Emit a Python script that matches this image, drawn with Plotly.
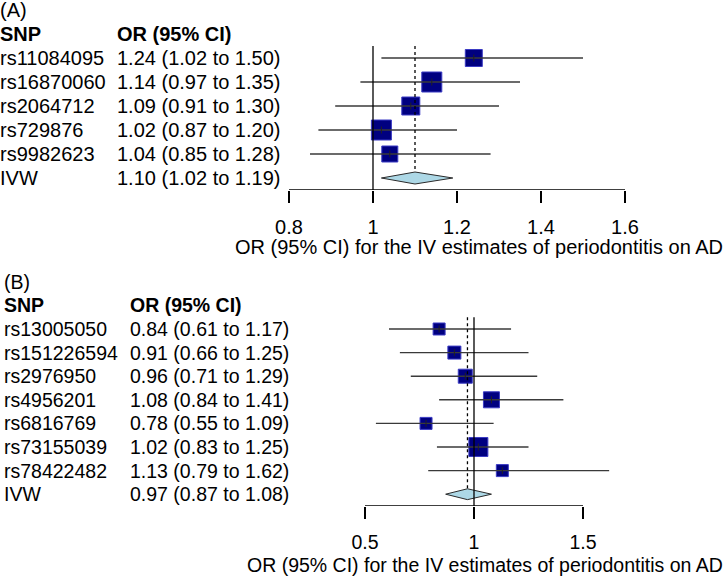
import plotly.graph_objects as go

# ---------------- Data ----------------
snps_A = ["rs11084095", "rs16870060", "rs2064712", "rs729876", "rs9982623"]
or_A = [1.24, 1.14, 1.09, 1.02, 1.04]
lo_A = [1.02, 0.97, 0.91, 0.87, 0.85]
hi_A = [1.50, 1.35, 1.30, 1.20, 1.28]
weight_A = [17, 20, 18, 20, 16]
ivw_A = [1.10, 1.02, 1.19]
ticks_A = [0.8, 1.0, 1.2, 1.4, 1.6]
ticktext_A = ["0.8", "1", "1.2", "1.4", "1.6"]

snps_B = ["rs13005050", "rs151226594", "rs2976950", "rs4956201", "rs6816769", "rs73155039", "rs78422482"]
or_B = [0.84, 0.91, 0.96, 1.08, 0.78, 1.02, 1.13]
lo_B = [0.61, 0.66, 0.71, 0.84, 0.55, 0.83, 0.79]
hi_B = [1.17, 1.25, 1.29, 1.41, 1.09, 1.25, 1.62]
weight_B = [12, 13, 14, 16, 12, 19, 12]
ivw_B = [0.97, 0.87, 1.08]
ticks_B = [0.5, 1.0, 1.5]
ticktext_B = ["0.5", "1", "1.5"]

xlab = "OR (95% CI) for the IV estimates of periodontitis on AD"

W, H = 726, 576
FONT = "Liberation Sans, Arial, sans-serif"

fig = go.Figure()

def fmt(o, l, h):
    return f"{o:.2f} ({l:.2f} to {h:.2f})"

def panel(snps, ors, los, his, weights, ivw, ticks, ticktext, label,
          xa, ya, px_one, px_per_unit, row0_px, row_h, fsize,
          col1_px, col2_px, diamond_h, title_y):
    n = len(snps)
    ivw_row = n
    # x range from pixel mapping across the full width
    xr = [1 - px_one / px_per_unit, 1 + (W - px_one) / px_per_unit]
    top_row = -2.4
    bot_row = n + 0.5
    dom_top = 1 - (row0_px + top_row * row_h) / H
    dom_bot = 1 - (row0_px + bot_row * row_h) / H
    xkey = "xaxis" if xa == "x" else "xaxis" + xa[1:]
    ykey = "yaxis" if ya == "y" else "yaxis" + ya[1:]
    fig.update_layout(**{
        xkey: dict(domain=[0, 1], range=xr, anchor=ya, showgrid=False, zeroline=False,
                   showline=False, ticks="outside", ticklen=12, tickwidth=1.3,
                   tickcolor="black", tickvals=ticks, ticktext=ticktext,
                   tickfont=dict(family=FONT, size=fsize, color="black"),
                   ticklabelstandoff=7),
        ykey: dict(domain=[max(dom_bot, 0), min(dom_top, 1)], range=[bot_row, top_row],
                   anchor=xa, visible=False, showgrid=False, zeroline=False),
    })
    # axis line
    fig.add_shape(type="line", xref=xa, yref=ya, x0=ticks[0], x1=ticks[-1],
                  y0=bot_row, y1=bot_row, line=dict(color="black", width=1.3))
    # null line at 1
    fig.add_shape(type="line", xref=xa, yref=ya, x0=1, x1=1, y0=-0.5, y1=bot_row,
                  line=dict(color="black", width=1.3))
    # dotted summary line
    fig.add_shape(type="line", xref=xa, yref=ya, x0=ivw[0], x1=ivw[0], y0=-0.5,
                  y1=ivw_row - diamond_h, line=dict(color="black", width=1.3, dash="dot"))
    rows = list(range(n))
    # boxes
    fig.add_trace(go.Scatter(x=ors, y=rows, mode="markers", xaxis=xa, yaxis=ya,
                             marker=dict(symbol="square", size=weights, color="#000080",
                                         opacity=1,
                                         line=dict(color="#3b3bc4", width=1)),
                             hoverinfo="skip", showlegend=False))
    # CI lines
    cx, cy = [], []
    for i in rows:
        cx += [los[i], his[i], None]
        cy += [i, i, None]
    fig.add_trace(go.Scatter(x=cx, y=cy, mode="lines", xaxis=xa, yaxis=ya,
                             line=dict(color="#3a3a3a", width=1.4),
                             hoverinfo="skip", showlegend=False))
    fig.add_trace(go.Scatter(x=ors, y=rows, mode="markers", xaxis=xa, yaxis=ya,
                             marker=dict(symbol="line-ns", size=5, opacity=1,
                                         line=dict(color="#222222", width=1)),
                             hoverinfo="skip", showlegend=False))
    # diamond
    est, lo, hi = ivw
    fig.add_trace(go.Scatter(x=[lo, est, hi, est, lo],
                             y=[ivw_row, ivw_row - diamond_h, ivw_row, ivw_row + diamond_h, ivw_row],
                             mode="lines", fill="toself", fillcolor="#add8e6",
                             line=dict(color="#2a2a2a", width=1), xaxis=xa, yaxis=ya,
                             hoverinfo="skip", showlegend=False))
    # table text
    tf = dict(family=FONT, size=fsize, color="black")
    def ann(text, xpx, row, bold=False):
        fig.add_annotation(x=xpx / W, xref="paper", y=row, yref=ya, text=f"<b>{text}</b>" if bold else text,
                           showarrow=False, xanchor="left", yanchor="middle", font=tf, borderpad=0)
    ann(label, col1_px, -2)
    ann("SNP", col1_px, -1, bold=True)
    ann("OR (95% CI)", col2_px, -1, bold=True)
    for i in rows:
        ann(snps[i], col1_px, i)
        ann(fmt(ors[i], los[i], his[i]), col2_px, i)
    ann("IVW", col1_px, ivw_row)
    ann(fmt(*ivw), col2_px, ivw_row)
    fig.add_annotation(x=724 / W, xref="paper", y=1 - title_y / H, yref="paper", text=xlab,
                       showarrow=False, xanchor="right", yanchor="middle", font=tf, borderpad=0)

panel(snps_A, or_A, lo_A, hi_A, weight_A, ivw_A, ticks_A, ticktext_A, "(A)",
      "x", "y", 373, 420, 58, 24, 20, -1, 116, 0.25, 247)
panel(snps_B, or_B, lo_B, hi_B, weight_B, ivw_B, ticks_B, ticktext_B, "(B)",
      "x2", "y2", 474, 218, 329, 23.6, 19.5, 3, 129, 0.23, 565)

fig.update_layout(width=W, height=H, margin=dict(l=0, r=0, t=0, b=0),
                  plot_bgcolor="white", paper_bgcolor="white", showlegend=False)

fig.write_html("out.html", config={"displayModeBar": False, "staticPlot": True},
               post_script="document.body.style.margin='0px';document.body.style.overflow='hidden';")
